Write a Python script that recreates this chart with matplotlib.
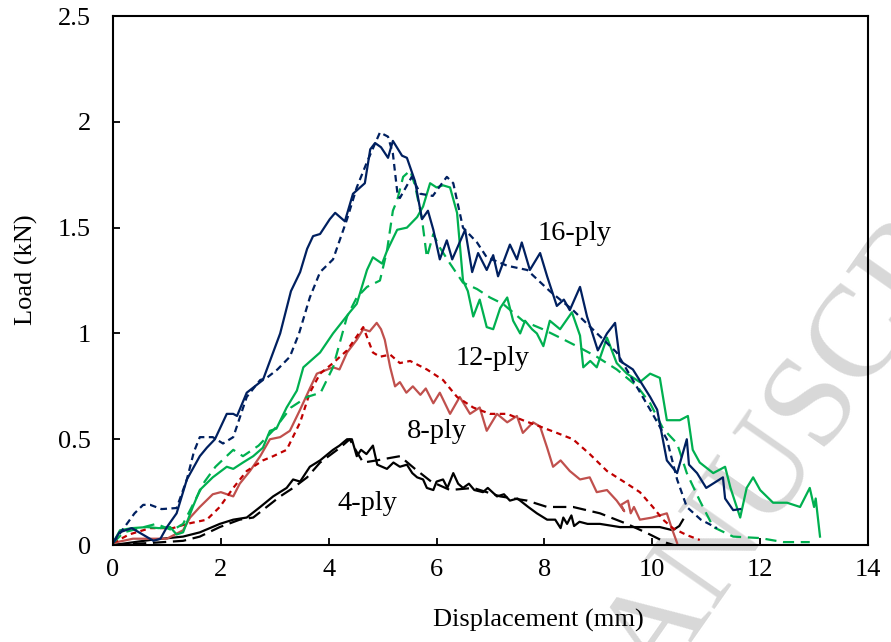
import matplotlib
matplotlib.use("Agg")
import matplotlib.pyplot as plt

plt.rcParams['font.family'] = ['Liberation Serif', 'DejaVu Serif']

# load-displacement curves (x in mm, y in kN)
ply16_exp_x = [0, 0.12, 0.35, 0.55, 0.75, 0.88, 1.0, 1.18, 1.37, 1.61, 1.74, 1.89, 2.11, 2.23, 2.3, 2.48,
               2.78, 3.1, 3.3, 3.47, 3.6, 3.71, 3.84, 4.02, 4.12, 4.3, 4.45, 4.67, 4.77, 4.86, 4.97, 5.1,
               5.19, 5.36, 5.45, 5.6, 5.73, 5.84, 5.94, 6.06, 6.19, 6.29, 6.53, 6.66, 6.77, 6.93, 7.05,
               7.14, 7.36, 7.49, 7.58, 7.73, 7.92, 8.05, 8.23, 8.36, 8.47, 8.66, 8.79, 8.99, 9.16, 9.31,
               9.4, 9.64, 9.96, 10.09, 10.27, 10.46, 10.64, 10.68, 10.83, 11.0, 11.31, 11.35, 11.5, 11.63]
ply16_exp_y = [0.01, 0.06, 0.08, 0.05, 0.02, 0.03, 0.085, 0.15, 0.31, 0.42, 0.46, 0.5, 0.62, 0.62, 0.61, 0.72,
               0.78, 1.0, 1.2, 1.29, 1.4, 1.46, 1.47, 1.54, 1.57, 1.53, 1.66, 1.71, 1.87, 1.9, 1.88, 1.83,
               1.91, 1.84, 1.83, 1.72, 1.54, 1.58, 1.49, 1.35, 1.44, 1.35, 1.49, 1.29, 1.38, 1.3, 1.37,
               1.27, 1.42, 1.35, 1.43, 1.3, 1.38, 1.27, 1.13, 1.16, 1.11, 1.22, 1.08, 0.92, 1.0, 1.05,
               0.87, 0.83, 0.7, 0.64, 0.4, 0.34, 0.5, 0.38, 0.34, 0.27, 0.32, 0.22, 0.165, 0.17]

ply16_fe_x = [0, 0.2, 0.4, 0.56, 0.69, 0.9, 1.18, 1.37, 1.5, 1.61, 1.85, 2.04, 2.23, 2.48, 2.73, 2.85,
              3.05, 3.28, 3.45, 3.65, 3.84, 4.08, 4.34, 4.52, 4.71, 4.95, 5.1, 5.19, 5.28, 5.32, 5.54,
              5.7, 5.93, 6.19, 6.31, 6.49, 6.75, 6.93, 7.31, 7.68, 8.1, 8.53, 9.34, 9.96, 10.27, 10.46,
              10.64, 10.9, 11.2]
ply16_fe_y = [0.01, 0.08, 0.15, 0.19, 0.19, 0.17, 0.175, 0.31, 0.44, 0.51, 0.51, 0.48, 0.51, 0.7, 0.78, 0.79,
              0.83, 0.89, 1.0, 1.17, 1.29, 1.35, 1.54, 1.69, 1.81, 1.95, 1.93, 1.85, 1.65, 1.64, 1.74,
              1.66, 1.65, 1.74, 1.71, 1.5, 1.43, 1.36, 1.32, 1.3, 1.2, 1.11, 0.91, 0.64, 0.5, 0.31,
              0.18, 0.12, 0.08]

ply12_exp_x = [0, 0.13, 0.35, 0.63, 0.85, 1.06, 1.18, 1.3, 1.48, 1.61, 1.85, 2.11, 2.23, 2.41, 2.6, 2.78,
               2.91, 3.03, 3.22, 3.41, 3.53, 3.84, 4.08, 4.39, 4.52, 4.71, 4.82, 4.99, 5.08, 5.27, 5.45,
               5.64, 5.75, 5.88, 6.0, 6.12, 6.25, 6.38, 6.49, 6.58, 6.68, 6.8, 6.93, 7.05, 7.18, 7.31,
               7.42, 7.55, 7.64, 7.77, 7.86, 7.98, 8.1, 8.29, 8.51, 8.66, 8.72, 8.85, 8.97, 9.16, 9.34,
               9.53, 9.77, 9.96, 10.14, 10.27, 10.51, 10.66, 10.75, 10.88, 11.13, 11.35, 11.45, 11.63,
               11.75, 11.87, 12.0, 12.24, 12.5, 12.74, 12.92, 13.0, 13.03, 13.11]
ply12_exp_y = [0.01, 0.07, 0.08, 0.085, 0.08, 0.085, 0.05, 0.06, 0.18, 0.26, 0.32, 0.37, 0.36, 0.39, 0.42, 0.46,
               0.54, 0.55, 0.65, 0.73, 0.84, 0.91, 1.0, 1.1, 1.14, 1.3, 1.36, 1.33, 1.39, 1.49, 1.5,
               1.55, 1.6, 1.71, 1.69, 1.7, 1.69, 1.57, 1.25, 1.2, 1.08, 1.16, 1.03, 1.02, 1.12, 1.17,
               1.06, 1.0, 1.06, 1.02, 1.0, 0.94, 1.06, 1.02, 1.1, 0.99, 0.84, 0.87, 0.84, 0.98, 0.86,
               0.81, 0.77, 0.81, 0.79, 0.59, 0.59, 0.61, 0.45, 0.39, 0.34, 0.37, 0.27, 0.13,
               0.27, 0.32, 0.26, 0.2, 0.2, 0.18, 0.27, 0.18, 0.22, 0.04]

ply12_fe_x = [0, 0.2, 0.5, 0.8, 1.1, 1.3, 1.5, 1.7, 1.9, 2.23, 2.41, 2.7, 3.0, 3.3, 3.6, 3.85, 4.08,
              4.34, 4.52, 4.71, 4.95, 5.08, 5.19, 5.27, 5.38, 5.51, 5.6, 5.73, 5.82, 5.94, 6.05, 6.25,
              6.49, 6.75, 6.99, 7.23, 7.6, 7.97, 8.29, 8.6, 8.97, 9.34, 9.72, 9.96, 10.2, 10.46, 10.64,
              10.88, 11.13, 11.5, 12.0, 12.43, 12.92]
ply12_fe_y = [0.01, 0.06, 0.08, 0.1, 0.07, 0.1, 0.2, 0.3, 0.37, 0.45, 0.42, 0.47, 0.55, 0.65, 0.7, 0.72, 0.84,
              1.08, 1.17, 1.22, 1.25, 1.39, 1.58, 1.63, 1.74, 1.77, 1.7, 1.54, 1.36, 1.47, 1.41, 1.33,
              1.24, 1.21, 1.17, 1.14, 1.06, 1.02, 0.98, 0.94, 0.89, 0.83, 0.75, 0.67, 0.55, 0.48, 0.34,
              0.21, 0.085, 0.04, 0.033, 0.014, 0.014]

ply8_exp_x = [0, 0.37, 1.0, 1.3, 1.43, 1.61, 1.85, 2.0, 2.23, 2.35, 2.54, 2.73, 2.91, 3.1, 3.28, 3.47,
              3.65, 3.78, 4.08, 4.2, 4.34, 4.52, 4.64, 4.76, 4.89, 4.97, 5.04, 5.14, 5.23, 5.32, 5.44,
              5.56, 5.7, 5.8, 5.94, 6.06, 6.25, 6.43, 6.62, 6.8, 6.93, 7.12, 7.31, 7.49, 7.6, 7.79, 7.92,
              8.05, 8.16, 8.3, 8.47, 8.66, 8.84, 8.97, 9.16, 9.34, 9.48, 9.42, 9.55, 9.6, 9.66, 9.77,
              10.0, 10.27, 10.36, 10.46]
ply8_exp_y = [0.01, 0.03, 0.03, 0.07, 0.13, 0.18, 0.24, 0.25, 0.23, 0.29, 0.35, 0.42, 0.5, 0.51, 0.54, 0.64,
              0.74, 0.81, 0.84, 0.83, 0.91, 0.97, 1.02, 1.01, 1.05, 1.02, 0.97, 0.84, 0.75, 0.77, 0.72,
              0.75, 0.71, 0.74, 0.67, 0.72, 0.62, 0.7, 0.62, 0.65, 0.54, 0.62, 0.58, 0.61, 0.53, 0.58, 0.56,
              0.46, 0.37, 0.4, 0.35, 0.31, 0.32, 0.25, 0.26, 0.21, 0.16, 0.19, 0.21, 0.15, 0.18, 0.12,
              0.13, 0.15, 0.08, 0.01]

ply8_fe_x = [0, 0.3, 0.69, 1.11, 1.37, 1.74, 1.98, 2.23, 2.48, 2.78, 2.97, 3.22, 3.47, 3.65, 3.84, 4.08,
             4.34, 4.64, 4.82, 4.95, 5.14, 5.32, 5.51, 5.82, 6.12, 6.38, 6.68, 6.99, 7.31, 7.6, 7.92,
             8.23, 8.53, 8.84, 9.16, 9.53, 9.77, 10.01, 10.2, 10.38, 10.64, 10.88]
ply8_fe_y = [0.01, 0.05, 0.08, 0.08, 0.1, 0.12, 0.18, 0.27, 0.35, 0.4, 0.42, 0.45, 0.58, 0.72, 0.81, 0.86,
             0.92, 1.03, 0.91, 0.89, 0.9, 0.86, 0.87, 0.83, 0.78, 0.7, 0.65, 0.62, 0.62, 0.59, 0.56,
             0.53, 0.5, 0.43, 0.35, 0.29, 0.25, 0.18, 0.12, 0.08, 0.047, 0.024]

ply4_exp_x = [0, 0.69, 1.3, 1.61, 1.98, 2.23, 2.48, 2.73, 2.97, 3.22, 3.34, 3.47, 3.65, 3.84, 4.08, 4.2,
              4.34, 4.43, 4.52, 4.6, 4.7, 4.82, 4.9, 5.08, 5.2, 5.32, 5.45, 5.55, 5.64, 5.75, 5.82, 5.94,
              6.0, 6.12, 6.2, 6.31, 6.4, 6.49, 6.6, 6.7, 6.86, 6.95, 7.12, 7.25, 7.36, 7.5, 7.6, 7.7,
              7.86, 8.05, 8.2, 8.3, 8.35, 8.42, 8.5, 8.55, 8.65, 8.8, 9.03, 9.4, 9.77, 10.14, 10.38,
              10.5, 10.57]
ply4_exp_y = [0.0, 0.024, 0.04, 0.06, 0.1, 0.12, 0.13, 0.18, 0.23, 0.27, 0.31, 0.3, 0.37, 0.4, 0.45, 0.47,
              0.5, 0.5, 0.42, 0.45, 0.43, 0.47, 0.38, 0.36, 0.39, 0.37, 0.38, 0.34, 0.32, 0.31, 0.27, 0.26,
              0.3, 0.31, 0.27, 0.34, 0.29, 0.27, 0.29, 0.26, 0.25, 0.27, 0.23, 0.24, 0.21, 0.22, 0.2, 0.18,
              0.15, 0.12, 0.12, 0.08, 0.13, 0.1, 0.14, 0.09, 0.11, 0.1, 0.1, 0.085, 0.085, 0.085, 0.07,
              0.09, 0.12]

ply4_fe_x = [0, 0.7, 1.3, 1.61, 1.98, 2.35, 2.6, 2.85, 3.1, 3.34, 3.6, 3.84, 4.21, 4.39, 4.52, 4.64,
             4.89, 5.1, 5.32, 5.6, 5.9, 6.25, 6.68, 7.18, 7.68, 8.05, 8.53, 9.03, 9.53, 9.9, 10.27, 10.4]
ply4_fe_y = [0.0, 0.01, 0.02, 0.04, 0.085, 0.12, 0.13, 0.18, 0.23, 0.27, 0.32, 0.39, 0.46, 0.5, 0.44, 0.39,
             0.4, 0.41, 0.42, 0.36, 0.3, 0.26, 0.27, 0.23, 0.21, 0.18, 0.18, 0.15, 0.1, 0.057, 0.01, 0.0]

labels = ['16-ply', '12-ply', '8-ply', '4-ply']
label_x = [8.56, 7.04, 6.01, 4.72]
label_y = [1.44, 0.85, 0.505, 0.165]

navy = '#002060'
green = '#00B050'
red_light = '#C0504D'
red_dark = '#C00000'

fig = plt.figure(figsize=(8.91, 6.42), dpi=100)
ax = fig.add_axes([0.1268, 0.151, 0.8474, 0.824])
ax.set_facecolor('none')

# faint watermark behind the plot
fig.text(0.2035, -1.1368, 'ACCEPTED MANUSCRIPT', fontsize=95, color='#d8d8d8',
         rotation=55, rotation_mode='anchor', ha='left', va='baseline', zorder=-5)

lw = 1.6
ax.plot(ply4_exp_x, ply4_exp_y, color='black', lw=lw)
ax.plot(ply4_fe_x, ply4_fe_y, color='black', lw=lw, dashes=(6, 3))
ax.plot(ply8_exp_x, ply8_exp_y, color=red_light, lw=lw)
ax.plot(ply8_fe_x, ply8_fe_y, color=red_dark, lw=lw, dashes=(2.5, 2))
ax.plot(ply12_exp_x, ply12_exp_y, color=green, lw=lw)
ax.plot(ply12_fe_x, ply12_fe_y, color=green, lw=lw, dashes=(5, 3))
ax.plot(ply16_exp_x, ply16_exp_y, color=navy, lw=lw)
ax.plot(ply16_fe_x, ply16_fe_y, color=navy, lw=lw, dashes=(3, 2))

for t, x, y in zip(labels, label_x, label_y):
    ax.text(x, y, t, fontsize=20.5, ha='center', va='baseline')

ax.set_xlim(0, 14)
ax.set_ylim(0, 2.5)
ax.set_xticks(range(0, 15, 2))
ax.set_xticklabels([str(v) for v in range(0, 15, 2)])
ax.set_yticks([0, 0.5, 1, 1.5, 2, 2.5])
ax.set_yticklabels(['0', '0.5', '1', '1.5', '2', '2.5'])
ax.tick_params(axis='x', direction='in', length=5, width=1.3, labelsize=19, pad=10)
ax.tick_params(axis='y', direction='in', length=5, width=1.3, labelsize=19, pad=16)
for s in ax.spines.values():
    s.set_linewidth(1.5)

ax.set_xlabel('Displacement (mm)', fontsize=19)
ax.set_ylabel('Load (kN)', fontsize=19)
ax.xaxis.set_label_coords(0.563, -0.12)
ax.yaxis.set_label_coords(-0.099, 0.52)

fig.savefig('out.png', dpi=100)
